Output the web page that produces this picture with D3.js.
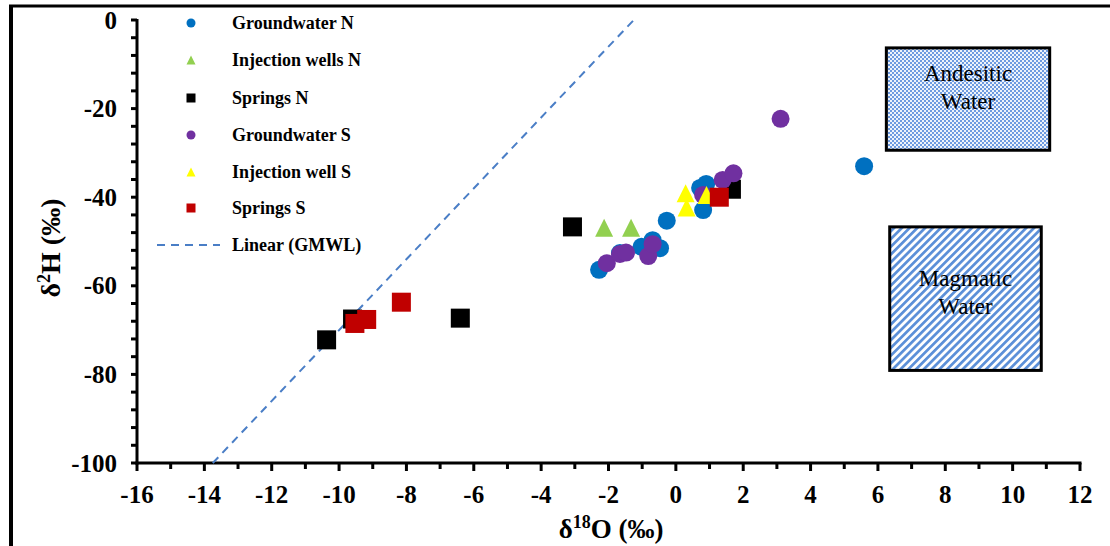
<!DOCTYPE html>
<html>
<head>
<meta charset="utf-8">
<script src="https://cdn.jsdelivr.net/npm/d3@7"></script>
<style>
  html, body { margin: 0; padding: 0; background: #fff; }
  svg { display: block; }
  text { font-family: "Liberation Serif", "Times New Roman", serif; }
</style>
</head>
<body>
<svg id="chart" width="1110" height="546"></svg>
<script>
// Stable isotope data: [δ18O, δ2H] in ‰
const groundwaterN = [[-2.28,-56.4],[-1.66,-52.6],[-1.02,-51.2],[-0.69,-49.7],[-0.47,-51.5],[-0.27,-45.3],[0.72,-37.9],[0.90,-37.0],[0.81,-42.9],[5.59,-33.0]];
const injectionN   = [[-2.13,-46.9],[-1.33,-46.9]];
const springsN     = [[-3.07,-46.7],[1.65,-38.2],[-9.60,-67.5],[-10.37,-72.2],[-6.40,-67.3]];
const groundwaterS = [[-2.05,-54.9],[-1.66,-52.8],[-1.48,-52.5],[-0.82,-53.3],[-0.69,-50.6],[0.81,-39.5],[1.39,-36.1],[1.71,-34.6],[3.11,-22.3]];
const injectionS   = [[0.29,-39.1],[0.32,-42.3],[0.91,-39.5]];
const springsS     = [[-9.53,-68.5],[-9.18,-67.6],[-8.15,-63.7],[1.29,-40.0]];

// Global meteoric water line: δ2H = 8·δ18O + 10
const gmwlSlope = 8, gmwlIntercept = 10;

// Reference fields [xmin, xmax, ymin, ymax]
const andesiticBox = [6.25, 11.1, -29.4, -6.3];
const magmaticBox  = [6.35, 10.85, -79.1, -46.7];

const xTicks = [-16,-14,-12,-10,-8,-6,-4,-2,0,2,4,6,8,10,12];
const yTicks = [0,-20,-40,-60,-80,-100];

const series = [
  {name: "Groundwater N",     data: groundwaterN, shape: "circle",   color: "#0070C0"},
  {name: "Injection wells N", data: injectionN,   shape: "triangle", color: "#92D050"},
  {name: "Springs N",         data: springsN,     shape: "square",   color: "#000000"},
  {name: "Groundwater S",     data: groundwaterS, shape: "circle",   color: "#7030A0"},
  {name: "Injection well S",  data: injectionS,   shape: "triangle", color: "#FFFF00"},
  {name: "Springs S",         data: springsS,     shape: "square",   color: "#C00000"}
];

const svg = d3.select("#chart");
const x = d3.scaleLinear().domain([-16, 12]).range([137, 1080]);
const y = d3.scaleLinear().domain([-100, 0]).range([463, 20]);

// Fill patterns for the reference fields
const defs = svg.append("defs");
const chk = defs.append("pattern").attr("id", "checker")
  .attr("patternUnits", "userSpaceOnUse").attr("width", 4).attr("height", 4);
chk.append("rect").attr("width", 4).attr("height", 4).attr("fill", "#eef3fb");
chk.append("rect").attr("x", 0).attr("y", 0).attr("width", 2).attr("height", 2).attr("fill", "#6e9be0");
chk.append("rect").attr("x", 2).attr("y", 2).attr("width", 2).attr("height", 2).attr("fill", "#6e9be0");

const diag = defs.append("pattern").attr("id", "diag")
  .attr("patternUnits", "userSpaceOnUse").attr("width", 5.5).attr("height", 5.5)
  .attr("patternTransform", "rotate(45)");
diag.append("rect").attr("width", 5.5).attr("height", 5.5).attr("fill", "#ffffff");
diag.append("rect").attr("x", 0).attr("width", 2.7).attr("height", 5.5).attr("fill", "#5b8fd8");

// Figure frame (top and left edges)
svg.append("line").attr("x1", 9).attr("x2", 1110).attr("y1", 6).attr("y2", 6)
  .attr("stroke", "#000").attr("stroke-width", 3);
svg.append("line").attr("x1", 11).attr("x2", 11).attr("y1", 5).attr("y2", 546)
  .attr("stroke", "#000").attr("stroke-width", 4);

// Reference field boxes
function drawBox(b, fill, lines, firstBaseline) {
  const g = svg.append("g");
  g.append("rect")
    .attr("x", x(b[0])).attr("y", y(b[3]))
    .attr("width", x(b[1]) - x(b[0])).attr("height", y(b[2]) - y(b[3]))
    .attr("fill", fill).attr("stroke", "#000").attr("stroke-width", 3);
  const cx = (x(b[0]) + x(b[1])) / 2;
  lines.forEach((t, i) => {
    g.append("text").attr("x", cx).attr("y", y(b[3]) + firstBaseline + i * 28)
      .attr("text-anchor", "middle").attr("font-size", 23).attr("fill", "#000").text(t);
  });
}
drawBox(andesiticBox, "url(#checker)", ["Andesitic", "Water"], 33);
drawBox(magmaticBox, "url(#diag)", ["Magmatic", "Water"], 59);

// Axes
const xAxis = svg.append("g");
xAxis.append("line").attr("x1", x(-16) - 1.5).attr("x2", x(12) + 1.5).attr("y1", y(-100)).attr("y2", y(-100))
  .attr("stroke", "#000").attr("stroke-width", 3);
d3.range(-16, 13, 1).forEach(v => {
  const major = v % 2 === 0;
  xAxis.append("line").attr("x1", x(v)).attr("x2", x(v))
    .attr("y1", y(-100)).attr("y2", y(-100) + (major ? 8 : 6))
    .attr("stroke", "#000").attr("stroke-width", 3);
});
xAxis.selectAll("text.tick").data(xTicks).join("text")
  .attr("class", "tick")
  .attr("x", d => x(d)).attr("y", 503)
  .attr("text-anchor", "middle").attr("font-size", 25).attr("font-weight", "bold")
  .text(d => d);

const yAxis = svg.append("g");
yAxis.append("line").attr("x1", x(-16)).attr("x2", x(-16)).attr("y1", y(0) - 1).attr("y2", y(-100) + 1.5)
  .attr("stroke", "#000").attr("stroke-width", 3);
d3.range(0, -101, -4).forEach(v => {
  yAxis.append("line").attr("x1", x(-16) - 6).attr("x2", x(-16))
    .attr("y1", y(v)).attr("y2", y(v))
    .attr("stroke", "#000").attr("stroke-width", 3);
});
yAxis.selectAll("text.tick").data(yTicks).join("text")
  .attr("class", "tick")
  .attr("x", 117).attr("y", d => y(d)).attr("dy", "0.34em")
  .attr("text-anchor", "end").attr("font-size", 25).attr("font-weight", "bold")
  .text(d => d);

// Axis titles
const xt = svg.append("text").attr("x", 611).attr("y", 538)
  .attr("text-anchor", "middle").attr("font-size", 27).attr("font-weight", "bold");
xt.append("tspan").text("δ");
xt.append("tspan").attr("font-size", 18).attr("dy", -10).text("18");
xt.append("tspan").attr("dy", 10).text("O (‰)");

const yt = svg.append("text").attr("transform", "translate(60,248) rotate(-90)")
  .attr("text-anchor", "middle").attr("font-size", 28).attr("font-weight", "bold");
yt.append("tspan").text("δ");
yt.append("tspan").attr("font-size", 18).attr("dy", -10).text("2");
yt.append("tspan").attr("dy", 10).text("H (‰)");

// GMWL trend line, clipped to the plot range
const gx0 = (-100 - gmwlIntercept) / gmwlSlope, gx1 = (0 - gmwlIntercept) / gmwlSlope;
svg.append("line")
  .attr("x1", x(gx0)).attr("y1", y(-100)).attr("x2", x(gx1)).attr("y2", y(0))
  .attr("stroke", "#4a7ec6").attr("stroke-width", 2).attr("stroke-dasharray", "8,6");

// Markers
function marker(sel, shape, size) {
  if (shape === "circle") return sel.append("circle").attr("r", size / 2);
  if (shape === "square") return sel.append("rect").attr("x", -size / 2).attr("y", -size / 2).attr("width", size).attr("height", size);
  const h = size;
  return sel.append("path").attr("d", `M0,${-h/2} L${size/2},${h/2} L${-size/2},${h/2} Z`);
}

series.forEach(s => {
  const g = svg.append("g");
  s.data.forEach(d => {
    const m = g.append("g").attr("transform", `translate(${x(d[0])},${y(d[1])})`);
    marker(m, s.shape, s.shape === "square" ? 19 : 18).attr("fill", s.color);
  });
});

// Legend
const legend = svg.append("g");
const rowY = [23, 60, 98, 135, 172, 208];
series.forEach((s, i) => {
  const m = legend.append("g").attr("transform", `translate(191,${rowY[i]})`);
  marker(m, s.shape, 9).attr("fill", s.color);
  legend.append("text").attr("x", 232).attr("y", rowY[i]).attr("dy", "0.33em")
    .attr("font-size", 18).attr("font-weight", "bold").text(s.name);
});
legend.append("line").attr("x1", 157).attr("x2", 220).attr("y1", 245).attr("y2", 245)
  .attr("stroke", "#4a7ec6").attr("stroke-width", 2).attr("stroke-dasharray", "8,6");
legend.append("text").attr("x", 232).attr("y", 245).attr("dy", "0.33em")
  .attr("font-size", 18).attr("font-weight", "bold").text("Linear (GMWL)");
</script>
</body>
</html>
